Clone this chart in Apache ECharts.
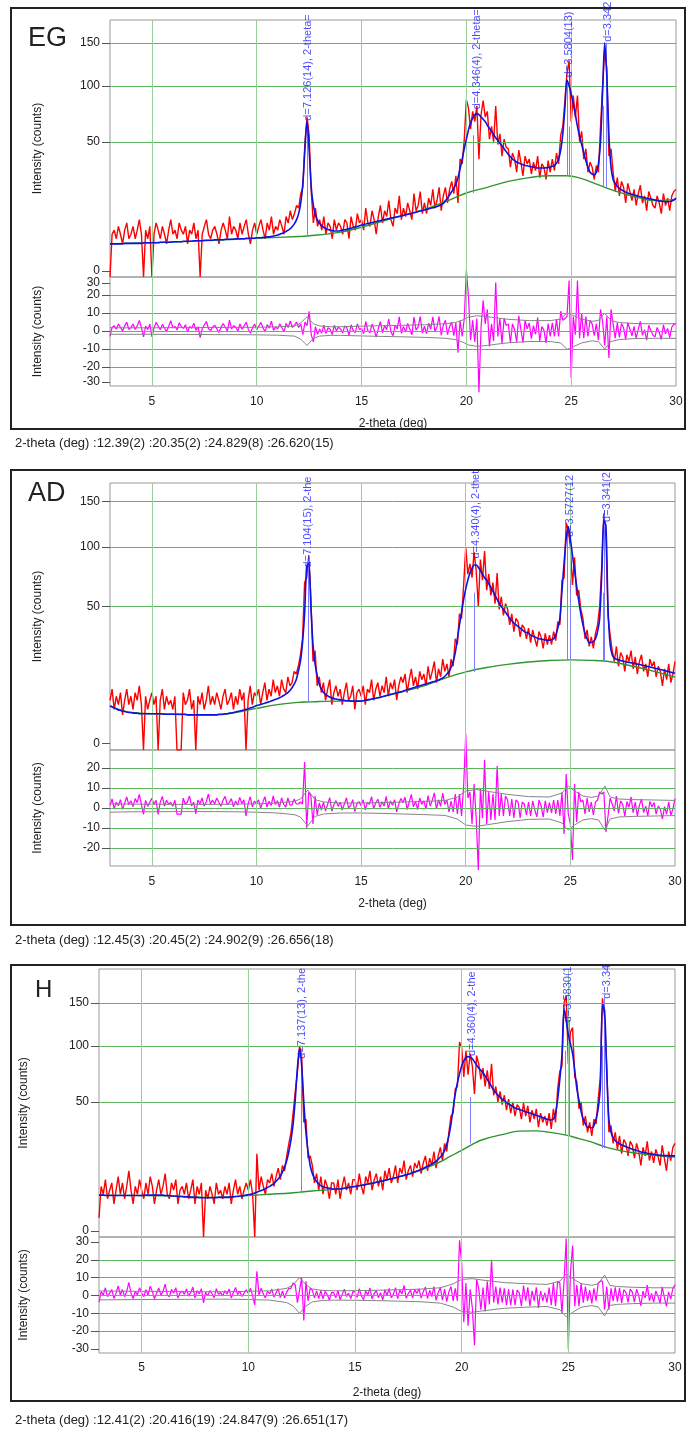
<!DOCTYPE html>
<html><head><meta charset="utf-8">
<script src="https://cdn.jsdelivr.net/npm/echarts@6/dist/echarts.min.js"></script>
<style>html,body{margin:0;padding:0;background:#fff}#c{width:689px;height:1430px}</style>
</head><body><div id="c"></div>
<script>
// ---------- data ----------
const twoTheta = Array.from({length: 271}, (_, i) => Math.round((3 + i * 0.1) * 10) / 10);
const xTickLabels = [5, 10, 15, 20, 25, 30];
const intensityTicks = [0, 50, 100, 150];
const egResidTicks = [30, 20, 10, 0, -10, -20, -30];
const adResidTicks = [20, 10, 0, -10, -20];
const hResidTicks = [30, 20, 10, 0, -10, -20, -30];

const egTitle = 'EG', adTitle = 'AD', hTitle = 'H';
const egCaption = '2-theta (deg) :12.39(2) :20.35(2) :24.829(8) :26.620(15)';
const adCaption = '2-theta (deg) :12.45(3) :20.45(2) :24.902(9) :26.656(18)';
const hCaption = '2-theta (deg) :12.41(2) :20.416(19) :24.847(9) :26.651(17)';

const egObs = [
0,5,6,4,7,5,3,6,8,4, 5,7,4,6,9,5,0,6,4,7, 0,5,8,6,4,7,5,3,6,9, 5,6,4,8,6,5,7,3,6,5,
8,4,6,0,5,7,9,5,4,6, 7,5,3,6,8,6,4,10,5,7, 6,4,8,5,7,9,5,3,6,8, 5,7,9,6,4,8,6,10,5,7,
6,9,7,5,10,8,12,9,11,14, 13,19,22,50,70,55,20,8,13,7, 9,6,10,5,8,7,4,9,6,8,
7,5,9,8,4,10,7,6,11,8, 9,6,13,8,7,12,9,5,10,14, 8,12,10,16,9,7,13,11,18,9,
13,10,15,12,9,19,12,14,20,11, 15,11,17,14,21,13,16,22,12,18, 22,15,21,25,19,28,15,38,35,52,
86,78,60,75,66,80,38,72,85,70, 75,52,62,50,80,48,56,40,52,46, 45,33,42,38,30,44,36,28,40,35,
38,29,36,31,40,27,35,33,26,37, 30,38,31,42,35,55,62,85,114,128, 66,90,70,90,50,58,38,45,30,36,
33,26,34,30,62,100,142,118,40,45, 30,20,27,18,25,22,15,24,20,16, 21,14,19,23,15,18,12,20,17,14,
13,18,15,11,19,14,17,12,18,20, 21];
const egCalc = [
3.0,3.0,3.0,3.0,3.0,3.0,3.0,3.1,3.1,3.1, 3.1,3.1,3.1,3.1,3.1,3.1,3.2,3.2,3.2,3.2,
3.2,3.2,3.2,3.2,3.3,3.3,3.3,3.3,3.3,3.3, 3.4,3.4,3.4,3.4,3.4,3.5,3.5,3.5,3.5,3.5,
3.6,3.6,3.6,3.6,3.6,3.7,3.7,3.7,3.7,3.7, 3.8,3.8,3.8,3.8,3.8,3.9,3.9,3.9,3.9,3.9,
4.0,4.0,4.0,4.0,4.0,4.1,4.1,4.1,4.1,4.1, 4.2,4.2,4.2,4.3,4.3,4.4,4.4,4.5,4.6,4.7,
4.8,5.0,5.2,5.4,5.7,6.0,6.4,7.0,7.8,9.0, 11,15,24,45,67,44,22,14,10.5,8.8,
7.8,7.2,6.7,6.4,6.2,6.0,5.9,5.8,5.8,5.8, 5.9,6.0,6.1,6.2,6.4,6.5,6.7,6.9,7.0,7.2,
7.4,7.5,7.7,7.8,8.0,8.1,8.3,8.4,8.6,8.7, 8.9,9.0,9.2,9.3,9.5,9.6,9.8,9.9,10.1,10.2,
10.4,10.6,10.8,10.9,11.1,11.3,11.5,11.7,11.9,12.1, 12.3,12.5,12.7,12.9,13.1,13.3,13.6,13.9,14.3,14.8,
16,17,18.5,20,21.5,23.5,27,32,38,45, 52,59,65,69,72,73,72,70,68,66,
63,60.5,58,55.5,53,51,49,47,45,43, 41,39.5,38,37,36,35.5,35,34.5,34,33.8,
33.5,33.2,33,32.8,32.5,32.5,32.5,32.5,32.6,32.8, 33,33.5,34,35.5,38,44,56,78,106,100,
92,82,72,62,54,48,42,37,33,30, 29,28.5,30,35,50,95,150,110,55,33,
26,24,22.5,21.5,20.8,20.2,19.7,19.3,19.0,18.7, 18.4,18.1,17.9,17.6,17.4,17.2,17.0,16.8,16.6,16.4,
16.2,16.0,15.8,15.7,15.6,15.5,15.5,15.6,15.8,16.2, 17];
const egBg = [[3,3.0],[5,3.2],[8,3.7],[10,4.1],[12,4.5],[12.4,4.6],[14,5.5],[16,8.5],[18,12.5],[19,15.5],[20,19.3],[21,22],[22,25],[23,27],[24,28],[24.8,28],[25.5,26.5],[26,24.5],[26.7,21.6],[27.5,19],[28.3,17],[29,16],[30,16.5]];
const egSigma = [[3,1.8],[4,1.8],[5,1.8],[6,1.9],[7,1.9],[8,2.0],[9,2.0],[10,2.1],[11,2.3],[11.8,2.8],[12.1,4.5],[12.4,8.0],[12.7,4.0],[13,2.8],[13.5,2.4],[14,2.4],[15,2.7],[16,3.0],[17,3.2],[18,3.5],[19,4.0],[19.5,4.8],[19.8,6.0],[20.1,7.7],[20.5,8.5],[21,8.0],[21.5,7.2],[22,6.5],[23,5.8],[24,5.8],[24.5,6.6],[24.8,10.2],[25.1,8.7],[25.5,6.6],[26,5.4],[26.3,5.9],[26.6,10.0],[26.9,5.8],[27.3,4.7],[28,4.2],[29,4.0],[30,4.1]];
const egPeakLines = [[12.39,4.6,68],[20.35,19.3,55],[24.83,28,106],[24.93,28,62],[26.53,22,80],[26.66,22,150]];
const egPeakLabels = [[12.45,66,'d=7.126(14), 2-theta='],[20.49,76,'d=4.346(4), 2-theta='],[24.9,108,'d=3.5804(13)'],[26.75,150,'d=3.342']];

const adObs = [
6,9,4,7,5,8,3,6,9,5, 7,4,8,6,10,5,0,7,4,6, 8,5,7,0,6,9,4,7,5,6, 4,7,0,0,0,8,5,6,9,4,
6,0,7,5,8,4,6,10,5,7, 5,8,6,4,7,9,5,6,8,4, 7,5,9,6,8,0,6,10,5,8, 7,9,5,8,11,6,9,7,12,8,
10,7,12,9,8,13,10,11,15,14, 17,22,30,68,72,92,56,19,24,10, 13,8,11,6,9,12,5,8,10,7,
9,5,8,11,6,7,10,4,8,9, 7,10,5,9,8,12,6,9,11,7, 10,8,13,7,11,9,12,6,10,13,
11,14,8,12,16,10,13,9,15,12, 14,10,17,12,15,19,11,16,13,20, 15,18,13,20,17,30,27,45,42,66,
100,75,84,72,95,78,50,88,70,96, 62,75,58,68,52,76,48,57,44,52, 48,38,45,34,42,40,31,38,36,30,
36,28,35,30,26,34,31,25,33,27, 32,27,34,29,40,38,70,72,125,118, 100,66,90,58,62,48,42,30,35,26,
31,25,33,38,50,82,136,110,44,32, 24,19,26,17,23,21,15,22,19,24, 16,21,14,19,22,15,18,13,20,17,
19,13,17,15,10,16,12,18,11,14, 19];
const adCalc = [
4.7,4.5,4.3,4.1,3.9,3.8,3.7,3.6,3.5,3.4, 3.4,3.3,3.3,3.3,3.2,3.2,3.2,3.2,3.2,3.2,
3.2,3.2,3.2,3.2,3.2,3.2,3.1,3.1,3.1,3.1, 3.1,3.1,3.1,3.1,3.1,3.1,3.1,3.0,3.0,3.0,
3.0,3.0,3.0,3.0,3.0,3.0,3.0,3.0,3.0,3.0, 3.0,3.0,3.1,3.1,3.1,3.2,3.2,3.3,3.3,3.4,
3.5,3.6,3.7,3.8,3.9,4.0,4.1,4.3,4.4,4.6, 4.8,4.9,5.0,5.2,5.3,5.5,5.6,5.8,6.0,6.2,
6.4,6.6,6.9,7.2,7.6,8.0,8.6,9.4,10.5,12, 15,19,28,45,82,84,50,27,18,13.5,
10.5,9.0,8.1,7.5,7.1,6.8,6.6,6.4,6.3,6.2, 6.1,6.0,6.0,5.9,5.9,5.8,5.8,5.8,5.8,5.8,
5.8,5.9,6.0,6.1,6.2,6.3,6.4,6.5,6.6,6.7, 6.9,7.0,7.2,7.3,7.5,7.6,7.8,7.9,8.1,8.2,
8.4,8.6,8.8,9.0,9.2,9.4,9.6,9.8,10.0,10.2, 10.4,10.6,10.8,11.0,11.2,11.4,11.6,11.9,12.2,12.6,
13.2,14,15,16.5,19,23,30,38,46,55, 63,70,76,80,83,83,81,78,75,72,
70,67,64,61,58,55,52,50,48,46, 44,42,40.5,39,38,37,36,35,34,33.5,
33,32,31.5,31,30.5,30,29.8,29.6,29.4,29.3, 29.3,29.5,30,32,36,42,62,85,108,121,
108,92,78,65,54,45,38,33,30,28, 28,28.5,30,34,42,75,128,122,48,27,
22,20.5,20,19.7,19.4,19.2,19,18.8,18.6,18.4, 18.3,18.1,17.9,17.7,17.5,17.3,17.1,16.9,16.7,16.5,
16.3,16.1,15.9,15.7,15.5,15.3,15.1,14.9,14.7,14.5, 14.3];
const adBg = [[3,4.7],[4,3.4],[5,3.2],[6,3.1],[7,3.0],[8,3.0],[9,3.4],[10,4.2],[11,5.0],[12,5.5],[12.45,5.6],[13,5.7],[14,5.8],[15,5.8],[16,6.9],[17,8.3],[18,10],[19,12.5],[20,14.8],[21,16.5],[22,17.8],[23,18.8],[24,19.4],[25,19.7],[26,19.5],[27,18.8],[28,17],[29,15],[30,12.9]];
const adSigma = [[3,2.1],[4,1.9],[5,1.9],[6,1.8],[7,1.8],[8,1.8],[9,1.9],[10,2.1],[11,2.5],[11.8,3.3],[12.1,4.5],[12.45,9.0],[12.8,4.2],[13.2,3.0],[14,2.5],[15,2.5],[16,2.7],[17,3.0],[18,3.3],[19,3.7],[19.6,5.5],[20,8.5],[20.5,9.2],[21,8.4],[22,6.8],[23,5.7],[24,5.5],[24.6,7.5],[24.9,11],[25.2,8.5],[25.6,6.0],[26,5.3],[26.35,6.0],[26.65,11],[26.9,5.5],[27.3,4.5],[28,4.2],[29,4.0],[30,3.8]];
const adPeakLines = [[12.45,5.6,88],[20.43,14.8,60],[24.87,19.7,121],[24.99,19.7,70],[26.55,18.8,60],[26.62,18.8,140]];
const adPeakLabels = [[12.48,80,'d=7.104(15), 2-the'],[20.5,88,'d=4.340(4), 2-thet'],[24.98,109,'d=3.5727(12'],[26.73,125,'d=3.341(2']];

const hObs = [
1,7,5,9,4,6,8,3,6,10, 5,8,4,7,12,6,3,7,5,9, 6,4,8,5,10,7,3,6,9,5, 7,11,5,4,8,6,9,3,6,7,
5,8,4,6,9,3,7,5,8,0, 6,4,7,5,3,8,5,6,4,7, 5,8,3,6,9,5,7,4,6,8, 6,9,5,0,19,6,10,7,5,9,
8,11,7,10,13,9,14,12,18,24, 30,42,58,74,100,90,36,38,17,18, 14,8,11,6,10,5,9,7,4,8,
8,5,9,4,7,10,6,8,5,9, 9,6,11,7,5,10,8,12,6,9, 11,7,10,6,12,9,13,8,10,14,
8,13,11,16,9,12,14,10,15,13, 16,11,15,18,12,17,14,20,13,18, 22,16,24,20,30,40,42,60,62,104,
98,70,95,72,92,80,56,90,82,68, 78,62,76,60,82,55,62,50,58,48, 55,44,52,42,50,40,48,46,38,49,
40,47,36,44,38,45,33,42,36,40, 34,42,32,45,36,60,75,80,150,160, 82,115,120,70,66,45,50,34,40,30,
36,28,38,35,52,70,156,132,80,30, 34,24,30,21,28,19,26,24,18,25, 23,17,24,20,14,22,18,25,16,20,
15,21,18,14,23,17,12,20,16,22, 24];
const hCalc = [
4.8,4.8,4.8,4.7,4.7,4.7,4.7,4.7,4.7,4.7, 4.7,4.7,4.7,4.7,4.7,4.7,4.7,4.7,4.7,4.7,
4.7,4.7,4.8,4.8,4.8,4.8,4.8,4.8,4.8,4.8, 4.8,4.7,4.7,4.7,4.6,4.6,4.6,4.5,4.5,4.5,
4.4,4.4,4.4,4.3,4.3,4.3,4.3,4.2,4.2,4.2, 4.2,4.2,4.2,4.2,4.2,4.2,4.3,4.3,4.3,4.3,
4.3,4.3,4.4,4.4,4.5,4.5,4.6,4.6,4.7,4.8, 4.9,5.0,5.1,5.3,5.5,5.7,5.9,6.1,6.4,6.7,
7.0,7.4,7.9,8.5,9.2,10.2,11.5,13.4,16,20, 26,35,52,78,97,80,50,30,20,14,
11,9.4,8.4,7.7,7.2,6.9,6.7,6.6,6.5,6.4, 6.3,6.3,6.3,6.3,6.4,6.5,6.6,6.7,6.8,6.9,
7.0,7.1,7.2,7.3,7.4,7.5,7.7,7.8,7.9,8.0, 8.2,8.3,8.5,8.6,8.8,8.9,9.1,9.3,9.4,9.6,
9.8,10.0,10.2,10.4,10.6,10.8,11.0,11.3,11.6,11.9, 12.2,12.5,12.9,13.3,13.7,14.1,14.6,15.1,15.7,16.5,
17.5,18.7,20.5,23.5,28,35,45,56,65,73, 80,85,88,89,88.6,87,84,81,78,76,
73.6,71,68,65,62,59,57,55,53.6,52, 51,49.5,48.5,47.5,46.5,45.5,45,44.5,44,43.5,
43,42.5,42,41.5,41,40.5,40,39.5,39,38.5, 38,37.6,37.5,38,42,52,68,90,142,128,
112,102,92,76,60,51,43,38,35,33, 33,32.5,34,38,45,62,148,140,75,38,
30,27,25.5,24.5,23.8,23.2,22.8,22.3,21.9,21.5, 21.1,20.8,20.5,20.1,19.8,19.6,19.4,19.2,19.0,18.8,
18.7,18.5,18.4,18.3,18.2,18.1,18.1,18.0,18.0,18.0, 18.0];
const hBg = [[3,4.8],[5,4.7],[7,4.5],[8,4.3],[9,4.4],[10,4.7],[11,5.0],[12,5.3],[12.4,5.5],[13,5.8],[14,6.2],[15,7.0],[16,8.2],[17,9.8],[18,12.0],[19,15.5],[19.5,18],[20,20.5],[20.5,23.5],[21,26],[22,29],[22.7,30.7],[23.5,30.8],[24,30.2],[24.9,28.4],[25.5,26.5],[26,25],[26.8,22],[27.5,20.3],[28,19.5],[29,18.3],[30,17.5]];
const hSigma = [[3,2.5],[5,2.3],[7,2.2],[8,2.1],[9,2.1],[10,2.3],[11,2.6],[11.8,4.0],[12.1,6.0],[12.4,10],[12.7,6.0],[13,3.6],[13.5,2.8],[14,2.6],[15,2.7],[16,2.9],[17,3.2],[18,3.5],[19,4.3],[19.6,6.5],[20,9.0],[20.5,9.4],[21,8.6],[22,7.2],[23,6.6],[24,6.2],[24.6,8.0],[24.9,12],[25.2,9.5],[25.6,6.6],[26.1,5.7],[26.4,6.5],[26.7,11.5],[26.95,5.6],[27.3,5.0],[28,4.6],[29,4.3],[30,4.3]];
const hPeakLines = [[12.47,5.5,97],[20.4,24,53.6],[24.85,28.4,95],[25.04,28.4,129],[26.6,21.6,100],[26.7,21.6,157]];
const hPeakLabels = [[12.5,86,'d=7.137(13), 2-the'],[20.47,88.6,'d=4.360(4), 2-the'],[24.97,125,'d=3.5830(1'],[26.79,154,'d=3.34']];

// ---------- layout / style ----------
const FONT = "'Liberation Sans', Arial, sans-serif";
const panels = [
  {title: egTitle, obs: egObs, calc: egCalc, bg: egBg, sigma: egSigma, lines: egPeakLines, labels: egPeakLabels, caption: egCaption, resTicks: egResidTicks,
   box: [11, 8, 674, 421], titlePos: [28, 25, 27],
   up: {left: 110, top: 20, width: 566, height: 257, max: 13.44},
   lo: {top: 277, height: 109, min: -30.5, max: 30},
   resLabelAt: {'30': 26.6, '-30': -28.3}, nameGap: 66, xNameGap: 32, xLabelMargin: 10, capY: 443},
  {title: adTitle, obs: adObs, calc: adCalc, bg: adBg, sigma: adSigma, lines: adPeakLines, labels: adPeakLabels, caption: adCaption, resTicks: adResidTicks,
   box: [11, 470, 674, 455], titlePos: [28, 480, 27],
   up: {left: 110, top: 483, width: 565, height: 267, max: 13.15},
   lo: {top: 750, height: 116, min: -29, max: 29},
   resLabelAt: {}, nameGap: 66, xNameGap: 32, xLabelMargin: 10, capY: 940},
  {title: hTitle, obs: hObs, calc: hCalc, bg: hBg, sigma: hSigma, lines: hPeakLines, labels: hPeakLabels, caption: hCaption, resTicks: hResidTicks,
   box: [11, 965, 674, 436], titlePos: [35, 978, 24],
   up: {left: 99, top: 969, width: 576, height: 268, max: 14.02},
   lo: {top: 1237, height: 116, min: -32.3, max: 32.8},
   resLabelAt: {}, nameGap: 69, xNameGap: 34, xLabelMargin: 9, capY: 1420}
];

const grid = [], xAxis = [], yAxis = [], series = [], graphic = [];
const HGRID = '#5fb65f', VGRID = '#98cf98';
const tickTxt = {color: '#222', fontSize: 12, fontFamily: FONT};

panels.forEach((p, k) => {
  const gu = k * 2, gl = k * 2 + 1;
  grid.push({left: p.up.left, top: p.up.top, width: p.up.width, height: p.up.height, show: true, borderColor: '#999', borderWidth: 1});
  grid.push({left: p.up.left, top: p.lo.top, width: p.up.width, height: p.lo.height, show: true, borderColor: '#999', borderWidth: 1});
  xAxis.push({type: 'value', gridIndex: gu, min: 3, max: 30, axisLine: {show: false}, axisTick: {show: false}, axisLabel: {show: false}, splitLine: {show: false}});
  xAxis.push({type: 'value', gridIndex: gl, min: 3, max: 30, axisLine: {show: false}, axisTick: {show: false, customValues: xTickLabels},
    axisLabel: Object.assign({customValues: xTickLabels, margin: p.xLabelMargin, hideOverlap: false}, tickTxt), splitLine: {show: false},
    name: '2-theta (deg)', nameLocation: 'middle', nameGap: p.xNameGap, nameTextStyle: tickTxt});
  const upLabelVals = intensityTicks.map(v => v === 0 ? 0.32 : Math.sqrt(v));
  yAxis.push({type: 'value', gridIndex: gu, min: 0, max: p.up.max, axisLine: {show: false},
    axisTick: {show: true, length: 8, customValues: upLabelVals, lineStyle: {color: '#555'}},
    axisLabel: Object.assign({customValues: upLabelVals, margin: 10, hideOverlap: false, formatter: v => String(Math.round(v * v))}, tickTxt),
    splitLine: {show: false}, name: 'Intensity (counts)', nameLocation: 'middle', nameRotate: 90, nameGap: p.nameGap, nameTextStyle: tickTxt});
  const loLabelVals = p.resTicks.map(v => (p.resLabelAt[String(v)] !== undefined ? p.resLabelAt[String(v)] : v)).sort((a, b) => a - b);
  yAxis.push({type: 'value', gridIndex: gl, min: p.lo.min, max: p.lo.max, axisLine: {show: false},
    axisTick: {show: true, length: 8, customValues: loLabelVals, lineStyle: {color: '#555'}},
    axisLabel: Object.assign({customValues: loLabelVals, margin: 10, hideOverlap: false, formatter: v => String(Math.round(v / 10) * 10)}, tickTxt),
    splitLine: {show: false}, name: 'Intensity (counts)', nameLocation: 'middle', nameRotate: 90, nameGap: p.nameGap, nameTextStyle: tickTxt});

  const vLines = xTickLabels.filter(v => v < 30).map(v => ({xAxis: v, lineStyle: {color: VGRID}}));
  series.push({type: 'line', xAxisIndex: gu, yAxisIndex: gu, data: [[3, 0]], symbol: 'none', z: 1, silent: true,
    markLine: {silent: true, symbol: ['none', 'none'], label: {show: false}, animation: false,
      lineStyle: {color: HGRID, width: 1, type: 'solid'},
      data: intensityTicks.filter(v => v > 0).map(v => ({yAxis: Math.sqrt(v)})).concat(vLines)}});
  series.push({type: 'line', xAxisIndex: gl, yAxisIndex: gl, data: [[3, 0]], symbol: 'none', z: 1, silent: true,
    markLine: {silent: true, symbol: ['none', 'none'], label: {show: false}, animation: false,
      lineStyle: {color: HGRID, width: 1, type: 'solid'},
      data: p.resTicks.filter(v => Math.abs(v) < 30).map(v => ({yAxis: v})).concat(vLines)}});

  series.push({type: 'line', xAxisIndex: gu, yAxisIndex: gu, symbol: 'none', z: 3, silent: true,
    lineStyle: {color: '#ff0000', width: 1.4}, data: twoTheta.map((x, i) => [x, Math.sqrt(p.obs[i])])});
  series.push({type: 'line', xAxisIndex: gu, yAxisIndex: gu, symbol: 'none', z: 4, silent: true, smooth: 0.4,
    lineStyle: {color: '#2f952f', width: 1.4}, data: p.bg.map(d => [d[0], Math.sqrt(d[1])])});
  series.push({type: 'line', xAxisIndex: gu, yAxisIndex: gu, symbol: 'none', z: 5, silent: true, smooth: 0.3,
    lineStyle: {color: '#1010e0', width: 1.6}, data: twoTheta.map((x, i) => [x, Math.sqrt(p.calc[i])])});
  series.push({type: 'line', xAxisIndex: gu, yAxisIndex: gu, data: [[3, 0]], symbol: 'none', z: 6, silent: true,
    markLine: {silent: true, symbol: ['none', 'none'], label: {show: false}, animation: false,
      lineStyle: {color: '#7c7cff', width: 1, type: 'solid'},
      data: p.lines.map(l => [{coord: [l[0], Math.sqrt(l[1])]}, {coord: [l[0], Math.sqrt(l[2])]}])}});
  series.push({type: 'scatter', xAxisIndex: gu, yAxisIndex: gu, symbolSize: 2, z: 7, silent: true, clip: false,
    itemStyle: {color: 'rgba(0,0,0,0)'},
    labelLayout: {hideOverlap: false},
    label: {show: true, position: 'top', distance: 0, rotate: 90, align: 'left', verticalAlign: 'middle',
      color: '#1c1cff', fontSize: 11, fontFamily: FONT},
    data: p.labels.map(l => ({value: [l[0], Math.sqrt(l[1])], label: {show: true, formatter: l[2]}}))});
  series.push({type: 'line', xAxisIndex: gl, yAxisIndex: gl, symbol: 'none', z: 3, silent: true, clip: false,
    lineStyle: {color: '#ff00ff', width: 1.2}, data: twoTheta.map((x, i) => [x, p.obs[i] - p.calc[i]])});
  series.push({type: 'line', xAxisIndex: gl, yAxisIndex: gl, symbol: 'none', z: 4, silent: true,
    lineStyle: {color: '#858585', width: 1}, data: p.sigma.map(d => [d[0], d[1]])});
  series.push({type: 'line', xAxisIndex: gl, yAxisIndex: gl, symbol: 'none', z: 4, silent: true,
    lineStyle: {color: '#858585', width: 1}, data: p.sigma.map(d => [d[0], -d[1]])});

  graphic.push({type: 'rect', shape: {x: p.box[0], y: p.box[1], width: p.box[2], height: p.box[3]},
    style: {fill: 'none', stroke: '#222', lineWidth: 2}, silent: true, z: 10});
  graphic.push({type: 'text', x: p.titlePos[0], y: p.titlePos[1], silent: true, z: 10,
    style: {text: p.title, fill: '#222', font: p.titlePos[2] + 'px ' + FONT, textVerticalAlign: 'top'}});
  graphic.push({type: 'text', x: 15, y: p.capY, silent: true, z: 10,
    style: {text: p.caption, fill: '#222', font: '13px ' + FONT, textVerticalAlign: 'middle'}});
});

const chart = echarts.init(document.getElementById('c'), null, {renderer: 'canvas'});
chart.setOption({animation: false, backgroundColor: '#fff', grid, xAxis, yAxis, series, graphic});
</script>
</body></html>
